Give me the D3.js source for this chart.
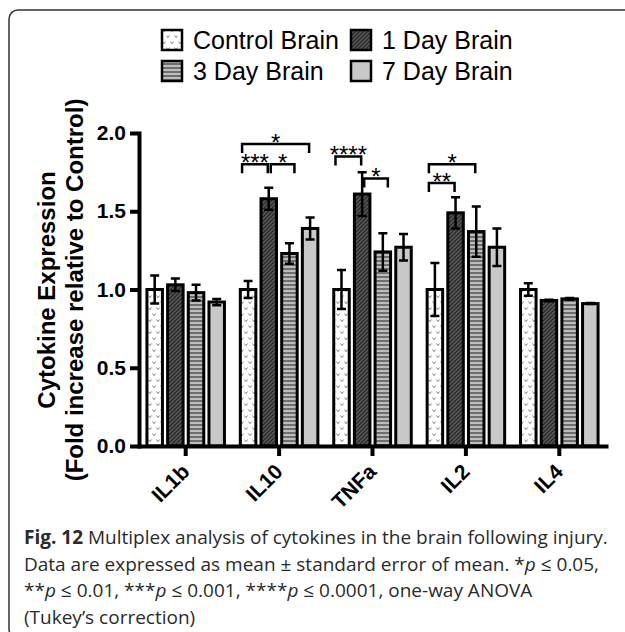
<!DOCTYPE html>
<html>
<head>
<meta charset="utf-8">
<script src="https://cdn.jsdelivr.net/npm/d3@7"></script>
<style>
body { margin: 0; background: #fff; }
svg { display: block; }
</style>
</head>
<body>
<script>
// data
var cytokines = ["IL1b", "IL10", "TNFa", "IL2", "IL4"];
var groups = ["Control Brain", "1 Day Brain", "3 Day Brain", "7 Day Brain"];
var controlMean = [1.00, 1.00, 1.00, 1.00, 1.00];
var controlErr  = [0.09, 0.055, 0.125, 0.17, 0.04];
var day1Mean = [1.03, 1.58, 1.61, 1.49, 0.93];
var day1Err  = [0.04, 0.07, 0.14, 0.10, 0.005];
var day3Mean = [0.98, 1.23, 1.24, 1.37, 0.94];
var day3Err  = [0.05, 0.065, 0.12, 0.16, 0.005];
var day7Mean = [0.92, 1.39, 1.27, 1.27, 0.91];
var day7Err  = [0.02, 0.07, 0.085, 0.12, 0.003];
var yTicks = [0, 0.5, 1.0, 1.5, 2.0];
// significance: cytokine, bar from, bar to, height, stars
var sigPairs = [
  ["IL10", 0, 1, 1.80, "***"],
  ["IL10", 1, 2, 1.80, "*"],
  ["IL10", 0, 3, 1.93, "*"],
  ["TNFa", 0, 1, 1.85, "****"],
  ["TNFa", 1, 2, 1.71, "*"],
  ["IL2", 0, 1, 1.68, "**"],
  ["IL2", 0, 2, 1.80, "*"]
];

var means = [controlMean, day1Mean, day3Mean, day7Mean];
var errs = [controlErr, day1Err, day3Err, day7Err];
var fills = ["url(#pCtrl)", "url(#pDay1)", "url(#pDay3)", "#c8c8c8"];

var W = 625, H = 632;
var font = "'Liberation Sans', Arial, sans-serif";

var svg = d3.select("body").append("svg")
    .attr("width", W)
    .attr("height", H);

// patterns
var defs = svg.append("defs");
var p0 = defs.append("pattern").attr("id", "pCtrl")
    .attr("patternUnits", "userSpaceOnUse").attr("width", 8).attr("height", 12);
p0.append("rect").attr("width", 8).attr("height", 12).attr("fill", "#fff");
p0.append("path").attr("d", "M0.5,1.5 l1.5,2.2 l1.5,-2.2 M4.5,7.5 l1.5,2.2 l1.5,-2.2")
    .attr("fill", "none").attr("stroke", "#777").attr("stroke-width", 0.9);

var p1 = defs.append("pattern").attr("id", "pDay1")
    .attr("patternUnits", "userSpaceOnUse").attr("width", 4).attr("height", 4);
p1.append("rect").attr("width", 4).attr("height", 4).attr("fill", "#555");
p1.append("path").attr("d", "M0,4 L4,0 M-1,1 L1,-1 M3,5 L5,3")
    .attr("stroke", "#222").attr("stroke-width", 1.1);

var p3 = defs.append("pattern").attr("id", "pDay3")
    .attr("patternUnits", "userSpaceOnUse").attr("width", 4).attr("height", 4);
p3.append("rect").attr("width", 4).attr("height", 4).attr("fill", "#bdbdbd");
p3.append("rect").attr("width", 4).attr("height", 2).attr("fill", "#6e6e6e");

// frame
svg.append("rect")
    .attr("x", 9).attr("y", 10)
    .attr("width", 700).attr("height", 628)
    .attr("rx", 9)
    .attr("fill", "none").attr("stroke", "#333").attr("stroke-width", 1.5);

// scales
var x0 = d3.scaleBand().domain(cytokines).range([139, 606])
    .paddingInner(0.17).paddingOuter(0.085);
var x1 = d3.scaleBand().domain(d3.range(4)).range([0, x0.bandwidth()])
    .paddingInner(0.25);
var y = d3.scaleLinear().domain([0, 2]).range([446, 133]);

function cx(c, k) { return x0(c) + x1(k) + x1.bandwidth() / 2; }

var rows = [];
cytokines.forEach(function(c, i) {
  groups.forEach(function(g, k) {
    rows.push({c: c, k: k, v: means[k][i], e: errs[k][i]});
  });
});

// bars
svg.append("g").selectAll("rect")
    .data(rows)
    .enter()
    .append("rect")
    .attr("x", function(d) { return x0(d.c) + x1(d.k); })
    .attr("y", function(d) { return y(d.v); })
    .attr("width", x1.bandwidth())
    .attr("height", function(d) { return y(0) - y(d.v); })
    .attr("fill", function(d) { return fills[d.k]; })
    .attr("stroke", "#000")
    .attr("stroke-width", 3);

// error bars
var eb = svg.append("g").attr("stroke", "#000").attr("stroke-width", 2.5).attr("fill", "none");
eb.selectAll("path")
    .data(rows)
    .enter()
    .append("path")
    .attr("d", function(d) {
      var x = cx(d.c, d.k), t = y(d.v + d.e), b = y(d.v - d.e);
      return "M" + x + "," + t + "V" + b +
             "M" + (x - 4.5) + "," + t + "h9" +
             "M" + (x - 4.5) + "," + b + "h9";
    });

// axes
var yAxis = svg.append("g")
    .attr("transform", "translate(139,0)")
    .call(d3.axisLeft(y).tickValues(yTicks).tickFormat(d3.format(".1f"))
      .tickSize(9).tickSizeOuter(0).tickPadding(4));
var xAxis = svg.append("g")
    .attr("transform", "translate(0,446)")
    .call(d3.axisBottom(x0).tickSize(10).tickSizeOuter(0));

[yAxis, xAxis].forEach(function(a) {
  a.select(".domain").attr("stroke-width", 4).attr("stroke-linecap", "square");
  a.selectAll(".tick line").attr("stroke-width", 4);
  a.selectAll("text")
    .attr("font-family", font)
    .attr("font-size", "21px")
    .attr("font-weight", "bold")
    .attr("fill", "#000");
});
yAxis.selectAll(".tick line").attr("x1", -1);
xAxis.selectAll(".tick text")
    .attr("x", 0).attr("y", 0).attr("dy", 0)
    .attr("text-anchor", "end")
    .attr("transform", "translate(5,27) rotate(-45)");

// y axis title
var yt = svg.append("g")
    .attr("font-family", font).attr("font-size", "24px").attr("font-weight", "bold")
    .attr("text-anchor", "middle");
yt.append("text").attr("transform", "translate(55,290) rotate(-90)").text("Cytokine Expression");
yt.append("text").attr("transform", "translate(83,290) rotate(-90)").text("(Fold increase relative to Control)");

// significance brackets
var sg = svg.append("g");
sigPairs.forEach(function(s) {
  var shift = s[1] > 0 ? 1 : 0;
  var xa = cx(s[0], s[1]) - 6 + shift * 8;
  var xb = cx(s[0], s[2]) - 1 + shift * 6;
  var yy = y(s[3]);
  sg.append("path")
    .attr("d", "M" + xa + "," + (yy + 9) + "V" + yy + "H" + xb + "V" + (yy + 9))
    .attr("fill", "none").attr("stroke", "#000").attr("stroke-width", 2.5);
  sg.append("text")
    .attr("x", (xa + xb) / 2).attr("y", yy + 7)
    .attr("text-anchor", "middle")
    .attr("font-family", font).attr("font-size", "24px")
    .text(s[4]);
});

// legend
var legX = [162, 351], legY = [40, 71];
var leg = svg.append("g").selectAll("g")
    .data(groups)
    .enter()
    .append("g")
    .attr("transform", function(d, i) {
      return "translate(" + legX[i % 2] + "," + legY[Math.floor(i / 2)] + ")";
    });
leg.append("rect")
    .attr("x", 0).attr("y", -10).attr("width", 20).attr("height", 20)
    .attr("fill", function(d, i) { return fills[i]; })
    .attr("stroke", "#000").attr("stroke-width", 2.5);
leg.append("text")
    .attr("x", 31).attr("y", 9)
    .attr("font-family", font).attr("font-size", "25px")
    .text(function(d) { return d; });

// caption
var capLines = [
  [["Fig. 12", "b"], [" Multiplex analysis of cytokines in the brain following injury.", ""]],
  [["Data are expressed as mean \u00b1 standard error of mean. *", ""], ["p", "i"], [" \u2264 0.05,", ""]],
  [["**", ""], ["p", "i"], [" \u2264 0.01, ***", ""], ["p", "i"], [" \u2264 0.001, ****", ""], ["p", "i"], [" \u2264 0.0001, one-way ANOVA", ""]],
  [["(Tukey\u2019s correction)", ""]]
];
var cap = svg.append("g")
    .attr("font-family", "'Open Sans', 'Noto Sans', sans-serif")
    .attr("font-size", "19px")
    .attr("fill", "#2a2a2a");
capLines.forEach(function(line, i) {
  var t = cap.append("text").attr("x", 24).attr("y", 544 + i * 26.5);
  line.forEach(function(p) {
    t.append("tspan")
      .attr("font-weight", p[1] == "b" ? "bold" : null)
      .attr("font-style", p[1] == "i" ? "italic" : null)
      .text(p[0]);
  });
});
</script>
</body>
</html>
